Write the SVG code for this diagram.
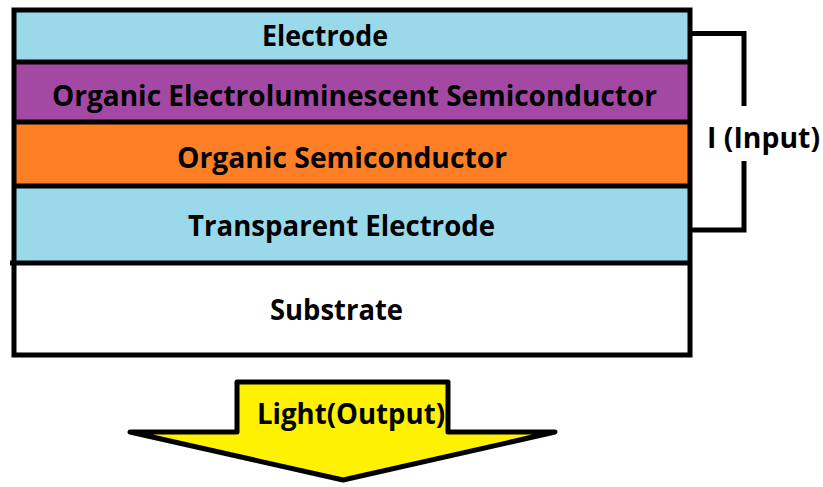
<svg xmlns="http://www.w3.org/2000/svg" width="823" height="487" viewBox="0 0 823 487">
<style>
text{font-family:"Open Sans","Noto Sans","Liberation Sans",sans-serif;font-weight:bold;font-size:29px;fill:#000}
.ln{stroke:#000;stroke-width:5;fill:none}
.bl{fill:#99D9EA}
</style>
<rect width="823" height="487" fill="#fff"/>
<g id="electrode">
<rect class="bl" x="14" y="10" width="676" height="52"/>
<text x="262" y="46" textLength="126" lengthAdjust="spacingAndGlyphs">Electrode</text>
</g>
<g id="oled-semiconductor">
<rect x="14" y="62" width="676" height="60" fill="#A349A4"/>
<text x="52" y="106" textLength="605" lengthAdjust="spacingAndGlyphs">Organic Electroluminescent Semiconductor</text>
</g>
<g id="organic-semiconductor">
<rect x="14" y="122" width="676" height="64" fill="#FF7F27"/>
<text x="177" y="168" textLength="330" lengthAdjust="spacingAndGlyphs">Organic Semiconductor</text>
</g>
<g id="transparent-electrode">
<rect class="bl" x="14" y="186" width="676" height="77"/>
<text x="188" y="236" textLength="307" lengthAdjust="spacingAndGlyphs">Transparent Electrode</text>
</g>
<g id="substrate">
<rect x="14" y="263" width="676" height="92" fill="#fff"/>
<text x="270" y="320" textLength="133" lengthAdjust="spacingAndGlyphs">Substrate</text>
</g>
<g id="frame">
<rect class="ln" x="14" y="10" width="676" height="345"/>
<line class="ln" x1="14" y1="62" x2="690" y2="62"/>
<line class="ln" x1="14" y1="122" x2="690" y2="122"/>
<line class="ln" x1="14" y1="186" x2="690" y2="186"/>
<line class="ln" x1="10" y1="263" x2="690" y2="263"/>
</g>
<g id="connectors">
<polyline class="ln" points="690,33.5 744,33.5 744,106"/>
<polyline class="ln" points="744,161 744,230 690,230"/>
</g>
<g id="input-label">
<text x="707" y="148" textLength="113" lengthAdjust="spacingAndGlyphs">I (Input)</text>
</g>
<g id="light-output">
<polygon points="237,382 448,382 448,432 555,432 343,480 130,432 237,432" fill="#FFF200" stroke="#000" stroke-width="5" stroke-linejoin="round"/>
<text x="257" y="424" textLength="188" lengthAdjust="spacingAndGlyphs">Light(Output)</text>
</g>
</svg>
